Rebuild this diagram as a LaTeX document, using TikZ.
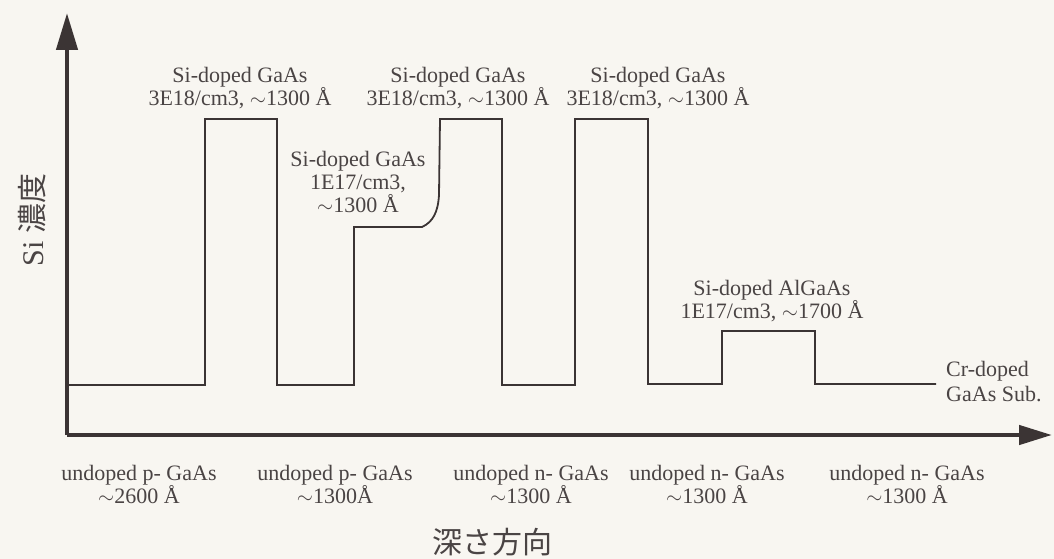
\documentclass[tikz,border=0pt]{standalone}
\usepackage{fontspec}
\setmainfont{Liberation Serif}
\newfontfamily\cjk{Noto Sans CJK JP}
\usetikzlibrary{arrows.meta}
\definecolor{ink}{HTML}{3B3434}
\definecolor{txt}{HTML}{4A4444}
\definecolor{paper}{HTML}{F8F6F1}
\tikzset{
  axis/.style={draw=ink, line width=4.5pt},
  profile/.style={draw=ink, line width=1.8pt, line join=miter},
  lbl/.style={text=txt, align=center, font=\fontsize{22}{23}\selectfont, inner sep=0pt},
  big/.style={text=txt, font=\fontsize{30}{32}\selectfont, inner sep=0pt},
}
\newcommand{\tl}{$\sim$}
\begin{document}
\begin{tikzpicture}[x=1pt,y=-1pt]
\fill[paper] (0,0) rectangle (1054,559);
\useasboundingbox (0,0) rectangle (1054,559);
% axes
\coordinate (O) at (67,435);
\coordinate (ytip) at (67,13);
\coordinate (xtip) at (1052,435);
\draw[axis, -{Triangle[length=37pt,width=21pt]}] (O) -- (ytip);
\draw[axis, -{Triangle[length=33pt,width=19pt]}] (O) -- (xtip);
% profile
\draw[profile] (67,385) -- (205,385) -- (205,119) -- (277,119) -- (277,385)
  -- (354,385) -- (354,227) -- (422,227) .. controls (433,222) and (438,212) .. (439,195)
  -- (440,119) -- (502,119) -- (502,385) -- (575,385) -- (575,119) -- (648,119)
  -- (648,384) -- (722,384) -- (722,331) -- (815,331) -- (815,384) -- (936,384);
% top labels
\node[lbl] (t1) at (240,88) {Si-doped GaAs\\3E18/cm3, \tl1300 Å};
\node[lbl] (t2) at (458,88) {Si-doped GaAs\\3E18/cm3, \tl1300 Å};
\node[lbl] (t3) at (658,88) {Si-doped GaAs\\3E18/cm3, \tl1300 Å};
\node[lbl] (m) at (358,182) {Si-doped GaAs\\1E17/cm3,\\\tl1300 Å};
\node[lbl] (al) at (772,301) {Si-doped AlGaAs\\1E17/cm3, \tl1700 Å};
\node[lbl, align=left, anchor=west, font=\fontsize{22}{25}\selectfont] (cr) at (946,382) {Cr-doped\\GaAs Sub.};
% bottom labels
\node[lbl] (b1) at (139,484) {undoped p- GaAs\\\tl2600 Å};
\node[lbl] (b2) at (335,484) {undoped p- GaAs\\\tl1300Å};
\node[lbl] (b3) at (531,484) {undoped n- GaAs\\\tl1300 Å};
\node[lbl] (b4) at (707,484) {undoped n- GaAs\\\tl1300 Å};
\node[lbl] (b5) at (907,484) {undoped n- GaAs\\\tl1300 Å};
% axis titles
\node[big] (xl) at (492,542) {\cjk 深さ方向};
\node[big, rotate=90] (yl) at (32,220) {Si {\cjk 濃度}};
\end{tikzpicture}
\end{document}
